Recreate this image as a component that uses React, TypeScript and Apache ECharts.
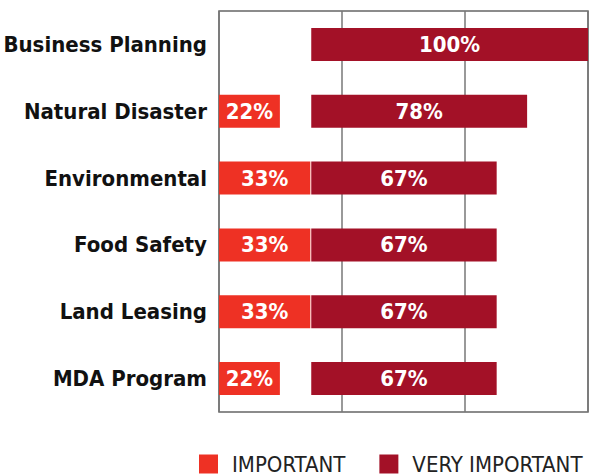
import React, { useEffect, useRef } from "react";
import * as echarts from "echarts";

const categories = ["Business Planning", "Natural Disaster", "Environmental", "Food Safety", "Land Leasing", "MDA Program"];
const important: (number | null)[] = [null, 22, 33, 33, 33, 22];
const veryImportant: number[] = [100, 78, 67, 67, 67, 67];
const seriesNames = ["IMPORTANT", "VERY IMPORTANT"];
const colors = ["#ee3124", "#a31127"];

const FONT = "'Liberation Sans Narrow', 'DejaVu Sans Condensed', 'Arial Narrow', sans-serif";

export default function App() {
  const ref = useRef<HTMLDivElement>(null);
  useEffect(() => {
    if (!ref.current) return;
    const chart = echarts.init(ref.current, null, { renderer: "svg" });
    const offset = 100 / 3;
    chart.setOption({
      animation: false,
      grid: {
        left: 219, right: 1, top: 11, bottom: 64,
        outerBoundsMode: "none", containLabel: false,
        show: true, borderColor: "#666", borderWidth: 1.5,
      },
      legend: {
        data: seriesNames,
        left: 199, top: 453, padding: 0,
        itemWidth: 19, itemHeight: 19, itemGap: 34,
        icon: "rect",
        textStyle: { fontFamily: FONT, fontSize: 22, lineHeight: 21, color: "#222", padding: [0, 0, 0, 9] },
      },
      xAxis: [
        {
          type: "value", min: 0, max: 100 + offset, interval: (100 + offset) / 3,
          axisLabel: { show: false }, axisLine: { show: false }, axisTick: { show: false },
          splitLine: { show: true, lineStyle: { color: "#777", width: 1.5 } },
        },
        {
          type: "value", min: -offset, max: 100, show: false,
          splitLine: { show: false },
        },
      ],
      yAxis: {
        type: "category", data: categories, inverse: true,
        axisLine: { show: false }, axisTick: { show: false },
        axisLabel: { fontFamily: FONT, fontSize: 22, fontWeight: "bold", color: "#111", margin: 12 },
      },
      series: [
        {
          name: seriesNames[0], type: "bar", xAxisIndex: 0, data: important,
          barWidth: 33, barGap: "-100%", itemStyle: { color: colors[0] },
          label: { show: true, position: "inside", formatter: "{c}%", color: "#fff", fontFamily: FONT, fontSize: 22, fontWeight: "bold" },
        },
        {
          name: seriesNames[1], type: "bar", xAxisIndex: 1, data: veryImportant,
          barWidth: 33, barGap: "-100%", itemStyle: { color: colors[1] },
          label: { show: true, position: "inside", formatter: "{c}%", color: "#fff", fontFamily: FONT, fontSize: 22, fontWeight: "bold" },
        },
      ],
    });
    return () => chart.dispose();
  }, []);
  return <div ref={ref} style={{ width: 589, height: 476, position: "absolute", left: 0, top: 0 }} />;
}
